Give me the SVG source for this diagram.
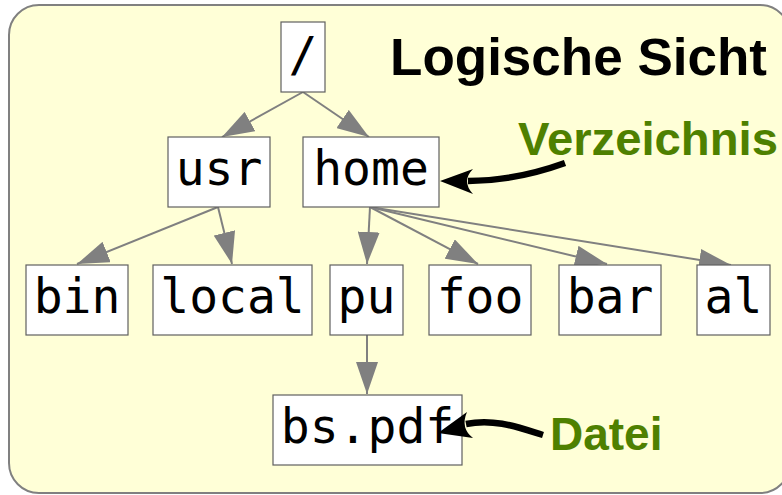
<svg xmlns="http://www.w3.org/2000/svg" width="782" height="495" viewBox="0 0 782 495">
  <style>
    .bg { fill: #ffffd7; stroke: #808080; stroke-width: 2; }
    .node rect { fill: #ffffff; stroke: #606060; stroke-width: 1.2; }
    .node text { font-family: "DejaVu Sans Mono", monospace; font-size: 48px; fill: #000; text-anchor: middle; }
    .edge { stroke: #808080; stroke-width: 2; fill: none; marker-end: url(#head); }
    .title { font-family: "Liberation Sans", Arial, sans-serif; font-weight: bold; font-size: 51px; fill: #000; }
    .label { font-family: "Liberation Sans", Arial, sans-serif; font-weight: bold; font-size: 46px; fill: #4e8000; }
    .pointer { stroke: #000; stroke-width: 6.5; fill: none; stroke-linecap: butt; }
  </style>
  <defs>
    <marker id="head" viewBox="0 0 32 22" refX="32" refY="11" markerWidth="32" markerHeight="22" markerUnits="userSpaceOnUse" orient="auto">
      <path d="M0,0 L32,11 L0,22 Z" fill="#808080"/>
    </marker>
  </defs>

  <!-- panel -->
  <rect class="bg" x="9" y="5" width="781" height="488" rx="30" ry="30"/>

  <!-- tree edges -->
  <g id="connectors">
    <line class="edge" x1="303" y1="92" x2="222" y2="137"/>
    <line class="edge" x1="303" y1="92" x2="369" y2="137"/>
    <line class="edge" x1="218" y1="207" x2="77" y2="264"/>
    <line class="edge" x1="218" y1="207" x2="232" y2="264"/>
    <line class="edge" x1="370" y1="207" x2="367" y2="264"/>
    <line class="edge" x1="370" y1="207" x2="478" y2="264"/>
    <line class="edge" x1="370" y1="207" x2="607" y2="264"/>
    <line class="edge" x1="370" y1="207" x2="731" y2="265"/>
    <line class="edge" x1="367" y1="335" x2="367" y2="394"/>
  </g>

  <!-- directory nodes -->
  <g id="root" class="node"><rect x="281" y="22" width="44" height="70"/><text x="303" y="71">/</text></g>
  <g id="usr" class="node"><rect x="168" y="137" width="102" height="70"/><text x="219" y="185">usr</text></g>
  <g id="home" class="node"><rect x="303" y="137" width="136" height="70"/><text x="371" y="185">home</text></g>
  <g id="bin" class="node"><rect x="26" y="265" width="102" height="70"/><text x="77" y="313">bin</text></g>
  <g id="local" class="node"><rect x="153" y="265" width="159" height="70"/><text x="232.5" y="313">local</text></g>
  <g id="pu" class="node"><rect x="330" y="265" width="73" height="70"/><text x="366.5" y="313">pu</text></g>
  <g id="foo" class="node"><rect x="429" y="265" width="102" height="70"/><text x="480" y="313">foo</text></g>
  <g id="bar" class="node"><rect x="559" y="265" width="102" height="70"/><text x="610" y="313">bar</text></g>
  <g id="al" class="node"><rect x="697" y="265" width="73" height="70"/><text x="733.5" y="313">al</text></g>
  <g id="bspdf" class="node"><rect x="273" y="395" width="189" height="70"/><text x="367.5" y="443">bs.pdf</text></g>

  <!-- heading -->
  <text class="title" x="390" y="75" textLength="377" lengthAdjust="spacingAndGlyphs">Logische Sicht</text>

  <!-- annotations -->
  <g id="note-dir">
    <text class="label" x="518" y="155" textLength="260" lengthAdjust="spacingAndGlyphs">Verzeichnis</text>
    <path class="pointer" d="M565,163 C540,172 505,181 468,181"/>
    <path d="M440,181 L473,169 Q461,181 473,194 Z" fill="#000"/>
  </g>
  <g id="note-file">
    <text class="label" x="550" y="450">Datei</text>
    <path class="pointer" d="M543,435 C520,428 495,418 466,424"/>
    <path d="M438,433 L467,412 Q460,428 473,438 Z" fill="#000"/>
  </g>
</svg>
